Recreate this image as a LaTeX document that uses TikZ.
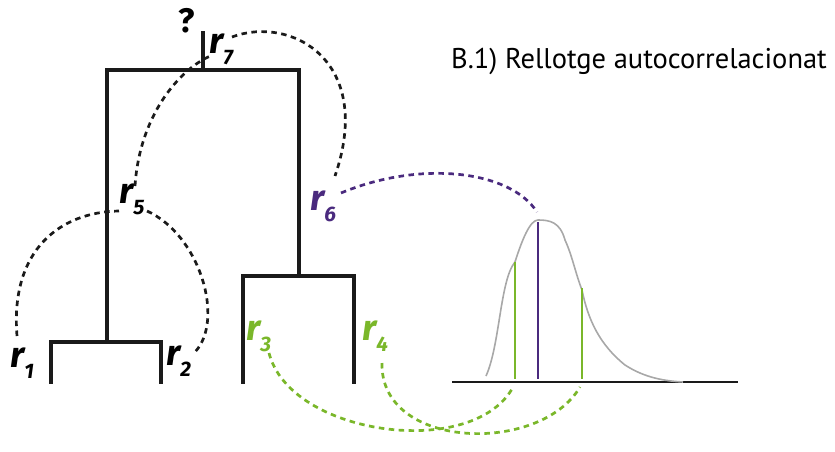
\documentclass[tikz,border=0pt]{standalone}
\usepackage{fontspec}
\setmainfont{PT Sans}
\newfontfamily\lblfont{Fira Sans}
\definecolor{treeblack}{HTML}{1A1A1A}
\definecolor{rpurple}{HTML}{4A2A7E}
\definecolor{rgreen}{HTML}{7AB72A}
\definecolor{curvegray}{HTML}{A8A8A8}
\begin{document}
\begin{tikzpicture}[x=1pt,y=-1pt,
  branch/.style={line width=4.6pt,draw=treeblack,line cap=rect},
  rlab/.style={anchor=base west,inner sep=0pt,font=\lblfont\bfseries\itshape\fontsize{36}{36}\selectfont},
  dashlink/.style={line width=2.7pt,dash pattern=on 5.5pt off 4.5pt},
  bar/.style={line width=2.6pt}]
\useasboundingbox (0,0) rectangle (835,452);
% tree
\coordinate (root) at (203,33);
\coordinate (top) at (203,70);
\coordinate (tl) at (107,70);
\coordinate (tr) at (299,70);
\coordinate (lj) at (107,342);
\coordinate (rj) at (299,276);
\draw[branch] (root) -- (top);
\draw[branch] (lj) -- (tl) -- (tr) -- (rj);
\draw[branch] (51,382) -- (51,342) -- (161,342) -- (161,382);
\draw[branch] (243,382) -- (243,276) -- (354,276) -- (354,382);
% labels
\node[font=\lblfont\bfseries\fontsize{34}{34}\selectfont,inner sep=0pt] (q) at (187,21) {?};
\newcommand{\rl}[1]{r\raisebox{-0.32em}{\fontsize{21}{21}\selectfont #1}}
\node[rlab] (r7) at (209,53) {\rl{7}};
\node[rlab] (r5) at (119,203) {\rl{5}};
\node[rlab,text=rpurple] (r6) at (310,210) {\rl{6}};
\node[rlab] (r1) at (10,367) {\rl{1}};
\node[rlab] (r2) at (166,365) {\rl{2}};
\node[rlab,text=rgreen] (r3) at (246,340) {\rl{3}};
\node[rlab,text=rgreen] (r4) at (362,340) {\rl{4}};
\node[anchor=west,inner sep=0pt,font=\fontsize{28.5}{30}\selectfont] (title) at (451,61) {B.1) Rellotge autocorrelacionat};
% distribution
\coordinate (axl) at (452,382);
\coordinate (axr) at (738,382);
\draw[line width=2.4pt,treeblack] (axl) -- (axr);
\draw[curvegray,line width=1.6pt] (486,376) .. controls (500,345) and (500,280) .. (515,262)
  .. controls (522,240) and (530,220) .. (538,220)
  .. controls (550,220) and (560,222) .. (565,240)
  .. controls (572,255) and (576,275) .. (582,290)
  .. controls (588,320) and (600,345) .. (625,365)
  .. controls (645,378) and (665,381) .. (683,382);
\coordinate (gA) at (515,262);
\coordinate (gAb) at (515,379);
\coordinate (pk) at (538,222);
\coordinate (pkb) at (538,379);
\coordinate (gB) at (582,288);
\coordinate (gBb) at (582,379);
\draw[bar,rgreen] (gA) -- (gAb);
\draw[bar,rpurple] (pk) -- (pkb);
\draw[bar,rgreen] (gB) -- (gBb);
% dashed links
\coordinate (r1e) at (17,336);
\coordinate (r5a) at (119,211);
\coordinate (r5b) at (147,211);
\coordinate (r2e) at (195,352);
\coordinate (r5c) at (135,186);
\coordinate (r7a) at (213,55);
\coordinate (r7b) at (232,37);
\coordinate (r6a) at (335,176);
\coordinate (r6b) at (341,193);
\coordinate (pkt) at (537,212);
\coordinate (r3e) at (269,353);
\coordinate (r4e) at (382,363);
\coordinate (g1) at (512,389);
\coordinate (g2) at (580,387);
\draw[dashlink,treeblack] (r1e) .. controls (10,250) and (60,212) .. (r5a);
\draw[dashlink,treeblack] (r5b) .. controls (200,235) and (225,320) .. (r2e);
\draw[dashlink,treeblack] (r5c) .. controls (140,110) and (185,65) .. (r7a);
\draw[dashlink,treeblack] (r7b) .. controls (290,15) and (375,60) .. (r6a);
\draw[dashlink,rpurple] (r6b) .. controls (420,160) and (510,170) .. (pkt);
\draw[dashlink,rgreen] (r3e) .. controls (290,435) and (470,460) .. (g1);
\draw[dashlink,rgreen] (r4e) .. controls (380,450) and (540,455) .. (g2);
\end{tikzpicture}
\end{document}
